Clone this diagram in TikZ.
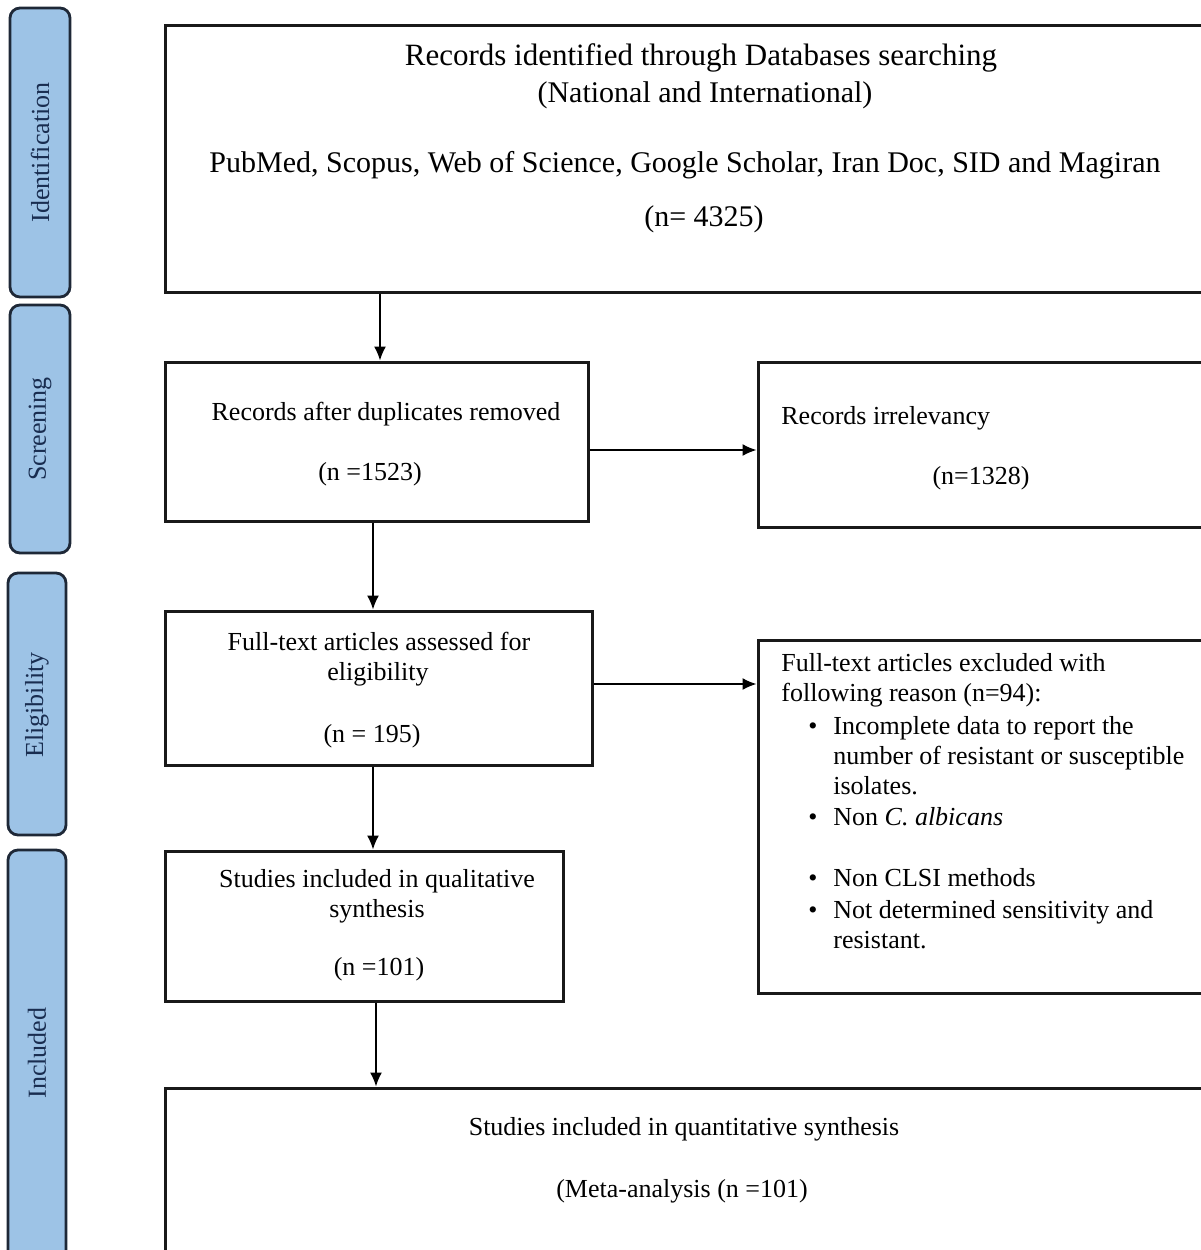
\documentclass[tikz,border=0pt]{standalone}
\usepackage{fontspec}
\setmainfont{Liberation Serif}
\usetikzlibrary{fit,arrows.meta,calc}
\definecolor{phasefill}{RGB}{157,195,230}
\definecolor{phaseline}{RGB}{30,40,55}
\definecolor{phasetext}{RGB}{25,45,80}
\begin{document}
\begin{tikzpicture}[x=0.5pt,y=-0.5pt,
 box/.style={draw=black!90, line width=1.5pt, inner sep=0pt, fill=white},
 phase/.style={draw=phaseline, line width=1.4pt, fill=phasefill, rounded corners=5pt, inner sep=0pt},
 ptext/.style={rotate=90, text=phasetext, inner sep=0pt, font=\fontsize{13}{15}\selectfont},
 big/.style={font=\fontsize{15}{18}\selectfont, inner sep=0pt, anchor=base},
 txt/.style={font=\fontsize{13}{15}\selectfont, inner sep=0pt, anchor=base},
 ltxt/.style={txt, anchor=base west},
 arr/.style={line width=0.75pt, -{Latex[length=7pt,width=6pt]}}]
\useasboundingbox (0,0) rectangle (1201,1250);
\clip (0,0) rectangle (1201,1250);
\fill[white] (0,0) rectangle (1201,1250);

% phase bars
\node[phase, fit={(10,8)(70,297)}] (pid) {};
\node[ptext] (pidt) at (pid.center) {Identification};
\node[phase, fit={(10,305)(70,553)}] (pscr) {};
\node[ptext] (pscrt) at (40,429) {Screening};
\node[phase, fit={(8,573)(66,835)}] (pel) {};
\node[ptext] (pelt) at (37,705) {Eligibility};
\node[phase, fit={(8,850)(66,1270)}] (pin) {};
\node[ptext] (pint) at (37,1053) {Included};

% boxes
\node[box, fit={(165,25)(1215,292)}] (ident) {};
\node[box, fit={(165,362)(588,521)}] (dup) {};
\node[box, fit={(758,362)(1215,527)}] (irr) {};
\node[box, fit={(165,611)(592,765)}] (elig) {};
\node[box, fit={(758,640)(1215,993)}] (excl) {};
\node[box, fit={(165,851)(563,1001)}] (qual) {};
\node[box, fit={(165,1088)(1215,1270)}] (quant) {};

% texts
\node[big, font=\fontsize{15.5}{18}\selectfont] (t1) at (701,65) {Records identified through Databases searching};
\node[big] (t2) at (705,102) {(National and International)};
\node[big] (t3) at (685,172) {PubMed, Scopus, Web of Science, Google Scholar, Iran Doc, SID and Magiran};
\node[big] (t4) at (704,226) {(n= 4325)};

\node[txt] (d1) at (386,420) {Records after duplicates removed};
\node[txt] (d2) at (370,480) {(n =1523)};

\node[ltxt] (r1) at (781,424) {Records irrelevancy};
\node[txt] (r2) at (981,484) {(n=1328)};

\node[txt] (e1) at (379,650) {Full-text articles assessed for};
\node[txt] (e2) at (378,680) {eligibility};
\node[txt] (e3) at (372,742) {(n = 195)};

\node[ltxt] (x1) at (781,671) {Full-text articles excluded with};
\node[ltxt] (x2) at (781,701) {following reason (n=94):};
\node[ltxt] (xb1) at (808,734) {\textbullet};
\node[ltxt] (x3) at (833,734) {Incomplete data to report the};
\node[ltxt] (x4) at (833,764) {number of resistant or susceptible};
\node[ltxt] (x5) at (833,794) {isolates.};
\node[ltxt] (xb2) at (808,825) {\textbullet};
\node[ltxt] (x6) at (833,825) {Non \textit{C. albicans}};
\node[ltxt] (xb3) at (808,886) {\textbullet};
\node[ltxt] (x7) at (833,886) {Non CLSI methods};
\node[ltxt] (xb4) at (808,918) {\textbullet};
\node[ltxt] (x8) at (833,918) {Not determined sensitivity and};
\node[ltxt] (x9) at (833,948) {resistant.};

\node[txt] (q1) at (377,887) {Studies included in qualitative};
\node[txt] (q2) at (377,917) {synthesis};
\node[txt] (q3) at (379,975) {(n =101)};

\node[txt] (m1) at (684,1135) {Studies included in quantitative synthesis};
\node[txt] (m2) at (682,1197) {(Meta-analysis (n =101)};

% connectors
\draw[arr] (ident.south -| 380,0) -- (dup.north -| 380,0);
\draw[arr] (dup.east |- 0,450) -- (irr.west |- 0,450);
\draw[arr] (dup.south -| 373,0) -- (elig.north -| 373,0);
\draw[arr] (elig.east |- 0,684) -- (excl.west |- 0,684);
\draw[arr] (elig.south -| 373,0) -- (qual.north -| 373,0);
\draw[arr] (qual.south -| 376,0) -- (quant.north -| 376,0);
\end{tikzpicture}
\end{document}
